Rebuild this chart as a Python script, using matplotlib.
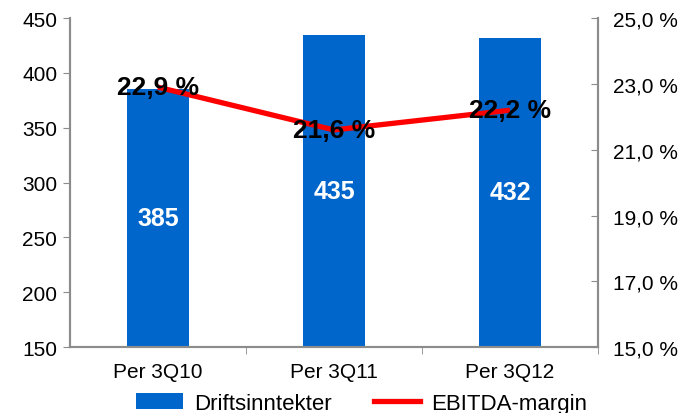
import numpy as np
import matplotlib.pyplot as plt
from matplotlib.patches import Patch
from matplotlib.lines import Line2D

plt.rcParams['font.family'] = ['Liberation Sans', 'DejaVu Sans']

# data
periods = ['Per 3Q10', 'Per 3Q11', 'Per 3Q12']
revenue = [385, 435, 432]
ebitda_margin = [22.9, 21.6, 22.2]

BLUE = '#0066cc'
RED = '#ff0000'
GREY = '#8c8c8c'

fig = plt.figure(figsize=(6.85, 4.14), dpi=100)
ax = fig.add_axes([0.102, 0.159, 0.771, 0.795])
x = np.arange(len(periods))

ax.bar(x, revenue, width=0.35, color=BLUE, bottom=0, zorder=2)
ax.set_ylim(150, 450)
ax.set_xlim(-0.5, len(periods) - 0.5)
ax.set_yticks(range(150, 451, 50))
ax.set_xticks(x)
ax.set_xticklabels(periods)
ax.set_xticks([0.5, 1.5, 2.5], minor=True)
ax.tick_params(axis='x', which='major', length=0, labelsize=15, pad=11)
ax.tick_params(axis='x', which='minor', length=5, color=GREY)
ax.tick_params(axis='y', length=5, color=GREY, labelsize=15, pad=4)

for xi, v in zip(x, revenue):
    ax.text(xi, (150 + v) / 2, str(v), color='white', fontsize=18,
            fontweight='bold', ha='center', va='center', zorder=3)

ax2 = ax.twinx()
ax2.set_ylim(15, 25)
ticks_r = np.arange(15, 25.1, 2)
ax2.set_yticks(ticks_r)
ax2.set_yticklabels([('%.1f %%' % t).replace('.', ',') for t in ticks_r])
ax2.tick_params(axis='y', length=5, direction='in', color=GREY, labelsize=15, pad=11)
ax2.plot(x, ebitda_margin, color=RED, lw=3.8, solid_capstyle='butt', zorder=3)

for xi, m in zip(x, ebitda_margin):
    ax2.text(xi, m, ('%.1f %%' % m).replace('.', ','), color='black', fontsize=19,
             fontweight='bold', ha='center', va='center', zorder=4)

for a in (ax, ax2):
    a.spines['top'].set_visible(False)
    for s in ('left', 'right', 'bottom'):
        a.spines[s].set_color(GREY)
        a.spines[s].set_linewidth(1.5)

handles = [Patch(facecolor=BLUE, edgecolor='none'),
           Line2D([0], [0], color=RED, lw=3.8)]
fig.legend(handles, ['Driftsinntekter', 'EBITDA-margin'], loc='lower center',
           bbox_to_anchor=(0.528, -0.05), ncol=2, frameon=False, fontsize=16,
           handlelength=2.1, handleheight=0.75, handletextpad=0.5, columnspacing=1.9)

fig.savefig('out.png', dpi=100)
